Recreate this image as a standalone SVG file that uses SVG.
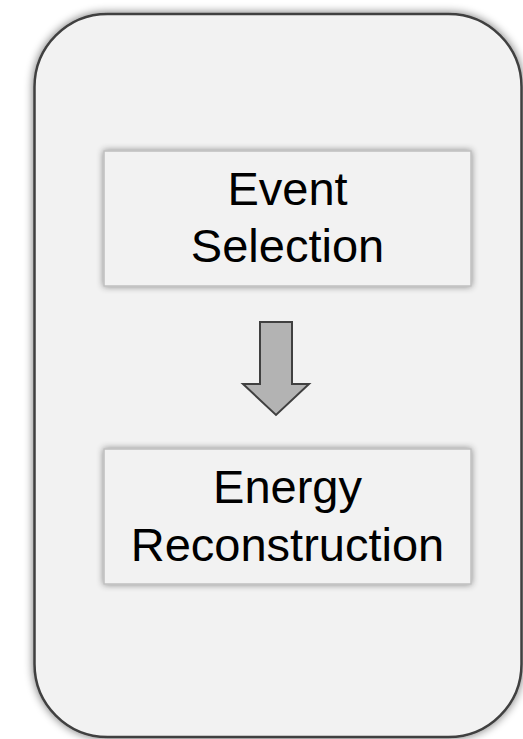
<svg xmlns="http://www.w3.org/2000/svg" width="523" height="739" viewBox="0 0 523 739">
<style>
  .outer { fill: #f2f2f2; stroke: #404040; stroke-width: 2.5; }
  .box { fill: #f2f2f2; stroke: #bfbfbf; stroke-width: 1.5; }
  .lbl { font-family: "Liberation Sans", Arial, sans-serif; font-size: 47px; fill: #000000; text-anchor: middle; }
  .arrow { fill: #b3b3b3; stroke: #404040; stroke-width: 2; stroke-linejoin: miter; }
</style>
<defs>
  <filter id="shadowBig" x="-10%" y="-10%" width="120%" height="120%">
    <feGaussianBlur in="SourceAlpha" stdDeviation="5"/>
    <feComponentTransfer><feFuncA type="linear" slope="0.55"/></feComponentTransfer>
    <feMerge><feMergeNode/><feMergeNode in="SourceGraphic"/></feMerge>
  </filter>
  <filter id="shadowBox" x="-10%" y="-20%" width="120%" height="140%">
    <feGaussianBlur in="SourceAlpha" stdDeviation="3.5"/>
    <feComponentTransfer><feFuncA type="linear" slope="0.45"/></feComponentTransfer>
    <feMerge><feMergeNode/><feMergeNode in="SourceGraphic"/></feMerge>
  </filter>
</defs>
<rect width="523" height="739" fill="#ffffff"/>
<g id="container">
  <rect class="outer" x="34.5" y="14" width="487" height="723" rx="73" ry="73" filter="url(#shadowBig)"/>
</g>
<g id="event-selection">
  <rect class="box" x="104" y="151" width="367" height="135" filter="url(#shadowBox)"/>
  <text class="lbl" x="287.5" y="205">Event</text>
  <text class="lbl" x="287.5" y="262">Selection</text>
</g>
<g id="connectors">
  <polygon class="arrow" points="260,322 292,322 292,384 309,384 276,415 243,384 260,384"/>
</g>
<g id="energy-reconstruction">
  <rect class="box" x="104" y="449" width="367" height="135" filter="url(#shadowBox)"/>
  <text class="lbl" x="287.5" y="503">Energy</text>
  <text class="lbl" x="287.5" y="561">Reconstruction</text>
</g>
</svg>
